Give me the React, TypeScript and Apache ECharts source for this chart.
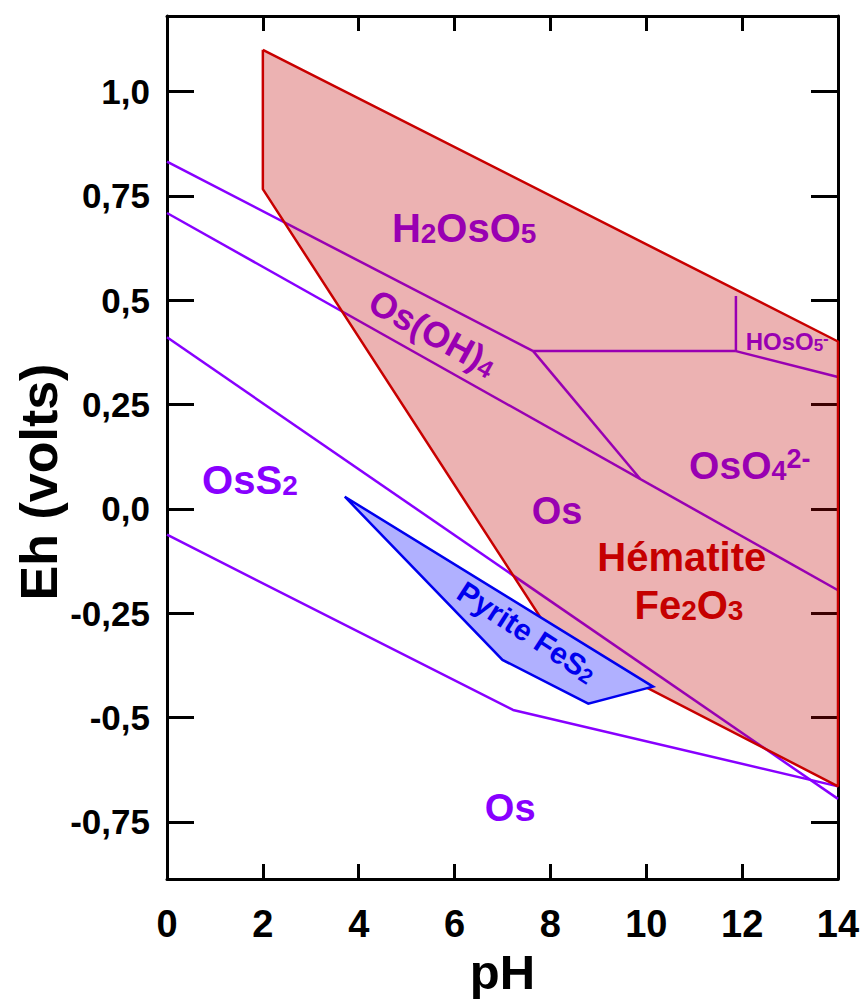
import React, { useEffect, useRef } from "react";
import * as echarts from "echarts";

// ---- axis ticks ----
const xTickValues = [0, 2, 4, 6, 8, 10, 12, 14];
const yTickValues = [-0.75, -0.5, -0.25, 0, 0.25, 0.5, 0.75, 1.0];
const yTickLabels = ["-0,75", "-0,5", "-0,25", "0,0", "0,25", "0,5", "0,75", "1,0"];

// ---- Hématite Fe2O3 stability field ----
const hematitePH = [2, 14, 14, 8.1, 2];
const hematiteEh = [1.1, 0.401, -0.665, -0.315, 0.766];

// ---- Pyrite FeS2 stability field ----
const pyritePH = [3.71, 7.0, 8.79, 10.14];
const pyriteEh = [0.029, -0.362, -0.467, -0.426];

// ---- Os species boundaries ----
const osH2OsO5_OsOH4_PH = [0, 7.64];
const osH2OsO5_OsOH4_Eh = [0.832, 0.378];
const osH2OsO5_OsO4_PH = [7.64, 11.87];
const osH2OsO5_OsO4_Eh = [0.378, 0.378];
const osHOsO5_OsO4_PH = [11.87, 14];
const osHOsO5_OsO4_Eh = [0.378, 0.316];
const osH2OsO5_HOsO5_PH = [11.87, 11.87];
const osH2OsO5_HOsO5_Eh = [0.378, 0.51];
const osOsOH4_OsO4_PH = [7.64, 9.87];
const osOsOH4_OsO4_Eh = [0.378, 0.072];
const osOs_upper_PH = [0, 14];
const osOs_upper_Eh = [0.709, -0.195];
const osOsS2_upper_PH = [0, 14];
const osOsS2_upper_Eh = [0.411, -0.695];
const osOsS2_lower_PH = [0, 7.22, 14];
const osOsS2_lower_Eh = [-0.062, -0.482, -0.665];

const violetLines = [
  [osH2OsO5_OsOH4_PH, osH2OsO5_OsOH4_Eh],
  [osH2OsO5_OsO4_PH, osH2OsO5_OsO4_Eh],
  [osHOsO5_OsO4_PH, osHOsO5_OsO4_Eh],
  [osH2OsO5_HOsO5_PH, osH2OsO5_HOsO5_Eh],
  [osOsOH4_OsO4_PH, osOsOH4_OsO4_Eh],
  [osOs_upper_PH, osOs_upper_Eh],
  [osOsS2_upper_PH, osOsS2_upper_Eh],
  [osOsS2_lower_PH, osOsS2_lower_Eh],
];

// ---- field labels (text, anchor pH, anchor Eh) ----
const fieldLabelTexts = [
  "{m|H}{s|2}{m|OsO}{s|5}",
  "{m|Os(OH)}{s|4}",
  "{m|HOsO}{s|5}{p|-}",
  "{m|OsO}{s|4}{p|2-}",
  "{m|Os}",
  "{m|Hématite}",
  "{m|Fe}{s|2}{m|O}{s|3}",
  "{m|OsS}{s|2}",
  "{m|Os}",
];
const fieldLabelPH = [6.2, 5.55, 12.94, 12.16, 8.14, 10.74, 10.89, 1.73, 7.16];
const fieldLabelEh = [0.673, 0.422, 0.4, 0.105, -0.005, -0.115, -0.23, 0.07, -0.716];

const pyriteLabelText = "{m|Pyrite FeS}{s|2}";
const pyriteLabelPH = [7.51];
const pyriteLabelEh = [-0.295];

const xAxisTitle = "pH";
const yAxisTitle = "Eh (volts)";

// styles
const VIOLET = "#8800ff";
const RED = "#c80000";
const BLUE = "#0000ee";
const LABEL_FONT = "'Liberation Sans', Arial, sans-serif";
const fieldLabelStyle = [
  { size: 40, color: VIOLET, rot: 0 },
  { size: 36, color: VIOLET, rot: -29 },
  { size: 24, color: VIOLET, rot: 0 },
  { size: 39, color: VIOLET, rot: 0 },
  { size: 38, color: VIOLET, rot: 0 },
  { size: 40, color: RED, rot: 0 },
  { size: 40, color: RED, rot: 0 },
  { size: 40, color: VIOLET, rot: 0 },
  { size: 38, color: VIOLET, rot: 0 },
];

const pairs = (xs: number[], ys: number[]) => xs.map((x, i) => [x, ys[i]]);

function richFor(size: number, color: string) {
  const base = { fontWeight: "bold", fontFamily: LABEL_FONT, fill: color };
  return {
    m: { ...base, fontSize: size, lineHeight: size },
    s: { ...base, fontSize: Math.round(size * 0.7), lineHeight: Math.round(size * 0.45), verticalAlign: "bottom" },
    p: { ...base, fontSize: Math.round(size * 0.7), lineHeight: Math.round(size * 0.45), verticalAlign: "top" },
  };
}

function textEl(p: number[], text: string, size: number, color: string, rot: number) {
  return {
    type: "text",
    x: p[0],
    y: p[1],
    rotation: (rot * Math.PI) / 180,
    style: {
      text,
      rich: richFor(size, color),
      fill: color,
      fontSize: size,
      fontWeight: "bold",
      fontFamily: LABEL_FONT,
      align: "center",
      verticalAlign: "middle",
    },
  };
}

export default function App() {
  const ref = useRef<HTMLDivElement>(null);

  useEffect(() => {
    document.body.style.margin = "0";
    const chart = echarts.init(ref.current!, null, { renderer: "svg" });

    const axisLine = { show: true, onZero: false, lineStyle: { color: "#000", width: 3 } };
    const xTick = { show: true, inside: true, length: 15, lineStyle: { color: "#000", width: 3 } };
    const yTick = { show: true, inside: true, length: 27, customValues: yTickValues, lineStyle: { color: "#000", width: 3 } };

    const series: any[] = [];

    violetLines.forEach(([xs, ys]) => {
      series.push({
        type: "line",
        data: pairs(xs, ys),
        symbol: "none",
        silent: true,
        z: 2,
        lineStyle: { color: VIOLET, width: 2.5 },
      });
    });

    series.push({
      type: "custom",
      z: 3,
      silent: true,
      clip: false,
      data: pairs(fieldLabelPH, fieldLabelEh),
      encode: { x: 0, y: 1 },
      renderItem: (params: any, api: any) => {
        const i = params.dataIndex;
        const st = fieldLabelStyle[i];
        const p = api.coord([fieldLabelPH[i], fieldLabelEh[i]]);
        return textEl(p, fieldLabelTexts[i], st.size, st.color, st.rot);
      },
    });

    series.push({
      type: "custom",
      z: 4,
      silent: true,
      clip: false,
      data: [[hematitePH[0], hematiteEh[0]]],
      encode: { x: 0, y: 1 },
      renderItem: (params: any, api: any) => ({
        type: "polygon",
        shape: { points: hematitePH.map((x, i) => api.coord([x, hematiteEh[i]])) },
        style: { fill: "rgba(192,0,0,0.3)", stroke: "none" },
      }),
    });

    series.push({
      type: "line",
      data: pairs([...hematitePH, hematitePH[0]], [...hematiteEh, hematiteEh[0]]),
      symbol: "none",
      silent: true,
      z: 5,
      lineStyle: { color: RED, width: 2.5 },
    });

    series.push({
      type: "custom",
      z: 6,
      silent: true,
      clip: false,
      data: [[pyritePH[0], pyriteEh[0]]],
      encode: { x: 0, y: 1 },
      renderItem: (params: any, api: any) => ({
        type: "polygon",
        shape: { points: pyritePH.map((x, i) => api.coord([x, pyriteEh[i]])) },
        style: { fill: "#b0b0ff", stroke: "#0000ee", lineWidth: 2.5, lineJoin: "miter" },
      }),
    });

    series.push({
      type: "custom",
      z: 7,
      silent: true,
      clip: false,
      data: pairs(pyriteLabelPH, pyriteLabelEh),
      encode: { x: 0, y: 1 },
      renderItem: (params: any, api: any) => {
        const p = api.coord([pyriteLabelPH[0], pyriteLabelEh[0]]);
        return textEl(p, pyriteLabelText, 30, BLUE, -33);
      },
    });

    chart.setOption({
      animation: false,
      backgroundColor: "#ffffff",
      grid: { left: 167, right: 26, top: 16, bottom: 120, outerBoundsMode: "none", containLabel: false },
      graphic: [
        {
          type: "text",
          x: 39,
          y: 482,
          rotation: Math.PI / 2,
          silent: true,
          style: {
            text: yAxisTitle,
            fill: "#000",
            fontSize: 52,
            fontWeight: "bold",
            fontFamily: LABEL_FONT,
            align: "center",
            verticalAlign: "middle",
          },
        },
      ],
      xAxis: [
        {
          type: "value",
          min: 0,
          max: 14,
          interval: 2,
          position: "bottom",
          axisLine,
          axisTick: xTick,
          splitLine: { show: false },
          axisLabel: {
            margin: 26,
            fontSize: 38,
            fontWeight: "bold",
            color: "#000",
            fontFamily: LABEL_FONT,
            formatter: (v: number) => (xTickValues.includes(v) ? String(v) : ""),
          },
          name: xAxisTitle,
          nameLocation: "middle",
          nameGap: 67,
          nameTextStyle: {
            fontSize: 49,
            fontWeight: "bold",
            color: "#000",
            fontFamily: LABEL_FONT,
          },
        },
        {
          type: "value",
          min: 0,
          max: 14,
          interval: 2,
          position: "top",
          axisLine,
          axisTick: xTick,
          splitLine: { show: false },
          axisLabel: { show: false },
        },
      ],
      yAxis: [
        {
          type: "value",
          min: -0.887,
          max: 1.181,
          position: "left",
          axisLine,
          axisTick: yTick,
          splitLine: { show: false },
          axisLabel: {
            customValues: yTickValues,
            margin: 17,
            fontSize: 35,
            fontWeight: "bold",
            color: "#000",
            fontFamily: LABEL_FONT,
            formatter: (v: number) => {
              const i = yTickValues.findIndex((t) => Math.abs(t - v) < 1e-6);
              return i >= 0 ? yTickLabels[i] : "";
            },
          },
        },
        {
          type: "value",
          min: -0.887,
          max: 1.181,
          position: "right",
          axisLine,
          axisTick: yTick,
          splitLine: { show: false },
          axisLabel: { show: false },
        },
      ],
      series,
    });

    return () => chart.dispose();
  }, []);

  return <div ref={ref} style={{ position: "absolute", left: 0, top: 0, width: 864, height: 999 }} />;
}
